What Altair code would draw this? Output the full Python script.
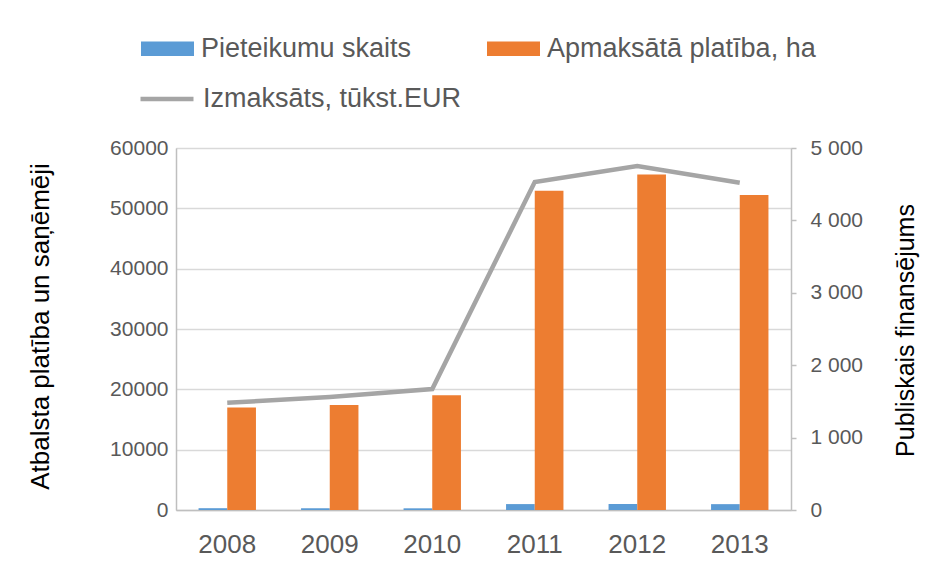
import altair as alt
import pandas as pd

years = ["2008", "2009", "2010", "2011", "2012", "2013"]
applications = [300, 290, 280, 980, 990, 970]
area_paid = [17000, 17400, 19000, 52900, 55600, 52200]
paid_keur = [1480, 1560, 1670, 4530, 4750, 4520]

s_app = "Pieteikumu skaits"
s_area = "Apmaksātā platība, ha"
s_paid = "Izmaksāts, tūkst.EUR"

bars = pd.DataFrame({
    "year": years * 2,
    "series": [s_app] * 6 + [s_area] * 6,
    "value": applications + area_paid,
})
line = pd.DataFrame({"year": years, "series": [s_paid] * 6, "value": paid_keur})

FONT = "Liberation Sans"
GREY_TXT = "#595959"

xenc = alt.X("year:N", title=None,
             scale=alt.Scale(paddingInner=0.44, paddingOuter=0.22),
             axis=alt.Axis(labelFontSize=26, labelColor=GREY_TXT, labelFont=FONT,
                           labelAngle=0, labelPadding=21, ticks=False,
                           domainColor="#BFBFBF", domainWidth=1.5))

bar_layer = alt.Chart(bars).mark_bar().encode(
    x=xenc,
    xOffset=alt.XOffset("series:N", sort=[s_app, s_area],
                        scale=alt.Scale(paddingInner=0, paddingOuter=0)),
    y=alt.Y("value:Q", title="Atbalsta platība un saņēmēji",
            scale=alt.Scale(domain=[0, 60000], nice=False),
            axis=alt.Axis(values=[0, 10000, 20000, 30000, 40000, 50000, 60000],
                          format="d", labelFontSize=21, labelColor=GREY_TXT,
                          labelFont=FONT, labelPadding=8, ticks=False,
                          domainColor="#BFBFBF", domainWidth=1.5,
                          grid=True, gridColor="#D9D9D9", gridWidth=1.5,
                          titleFontSize=26, titleFont=FONT, titleColor="#000000",
                          titleFontWeight="normal", titleAngle=270,
                          titleBaseline="middle", titleAlign="center",
                          titleX=-136, titleY=178)),
    fill=alt.Fill("series:N", sort=[s_app, s_area],
                  scale=alt.Scale(domain=[s_app, s_area], range=["#5B9BD5", "#ED7D31"]),
                  legend=alt.Legend(title=None, orient="none", legendX=-35, legendY=-126,
                                    direction="horizontal", columns=2, columnPadding=75,
                                    symbolType="M-1,-0.27H1V0.27H-1Z", symbolSize=2809,
                                    symbolStrokeWidth=0,
                                    labelFontSize=27, labelFont=FONT, labelColor=GREY_TXT,
                                    labelLimit=500, labelOffset=7)),
)

line_layer = alt.Chart(line).mark_line(strokeWidth=4.5).encode(
    x=alt.X("year:N"),
    y=alt.Y("value:Q", title="Publiskais finansējums",
            scale=alt.Scale(domain=[0, 5000], nice=False),
            axis=alt.Axis(orient="right", values=[0, 1000, 2000, 3000, 4000, 5000],
                          labelExpr="replace(format(datum.value, ','), ',', ' ')",
                          labelFontSize=21, labelColor=GREY_TXT, labelFont=FONT,
                          labelPadding=14, ticks=True, tickSize=5, tickColor="#BFBFBF",
                          tickWidth=1.5, domainColor="#BFBFBF", domainWidth=1.5,
                          grid=False,
                          titleFontSize=25, titleFont=FONT, titleColor="#000000",
                          titleFontWeight="normal", titleAngle=270,
                          titleBaseline="middle", titleAlign="center",
                          titleX=114, titleY=182)),
    stroke=alt.Stroke("series:N",
                      scale=alt.Scale(domain=[s_paid], range=["#A5A5A5"]),
                      legend=alt.Legend(title=None, orient="none", legendX=-38, legendY=-78,
                                        symbolType="stroke", symbolSize=2809,
                                        symbolStrokeWidth=4.5,
                                        labelFontSize=27, labelFont=FONT, labelColor=GREY_TXT,
                                        labelLimit=500, labelOffset=7)),
)

chart = alt.layer(bar_layer, line_layer).resolve_scale(
    y="independent", fill="independent", stroke="independent"
).properties(
    width=615, height=362,
    autosize=alt.AutoSizeParams(type="none"),
    padding={"left": 168, "top": 140, "right": 141, "bottom": 54},
).configure_view(strokeWidth=0).configure(background="white")

chart.save("out.html", embed_options={"renderer": "svg", "actions": False})
